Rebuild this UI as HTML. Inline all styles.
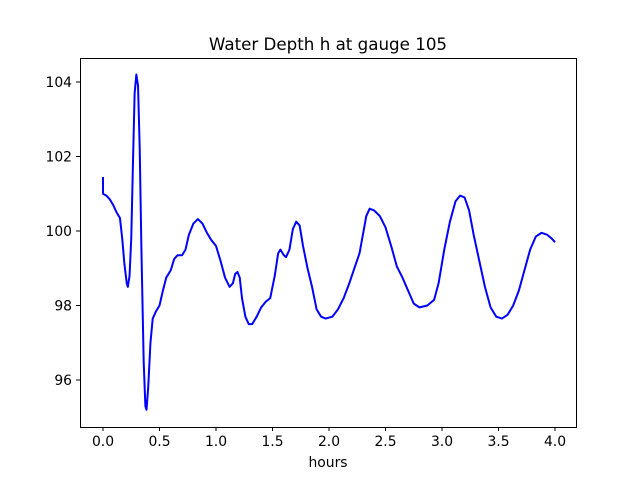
<!DOCTYPE html>
<html><head><meta charset="utf-8"><style>body{margin:0;background:#fff}svg{display:block}text{font-family:"DejaVu Sans","Liberation Sans",sans-serif;fill:#000}</style></head>
<body>
<svg width="640" height="480" viewBox="0 0 640 480" xmlns="http://www.w3.org/2000/svg">
<rect width="640" height="480" fill="#fff"/>
<text x="328" y="50" font-size="16.7" text-anchor="middle">Water Depth h at gauge 105</text>
<g transform="translate(103,231) scale(113,-37.25)">
<polyline fill="none" stroke="#0000ff" stroke-width="2" vector-effect="non-scaling-stroke" stroke-linejoin="round" points="0,1.45 0,1.0 0.03,0.95 0.06,0.85 0.09,0.7 0.12,0.5 0.15,0.35 0.17,-0.2 0.19,-0.9 0.21,-1.4 0.22,-1.5 0.235,-1.2 0.25,-0.2 0.265,1.8 0.28,3.7 0.295,4.2 0.31,3.9 0.325,2.2 0.34,-0.5 0.36,-3.5 0.375,-4.7 0.385,-4.8 0.4,-4.2 0.42,-3.0 0.44,-2.35 0.47,-2.15 0.5,-2.0 0.53,-1.6 0.56,-1.25 0.6,-1.05 0.63,-0.75 0.66,-0.65 0.7,-0.65 0.73,-0.5 0.76,-0.1 0.8,0.2 0.84,0.32 0.88,0.2 0.92,-0.05 0.96,-0.25 1.0,-0.4 1.04,-0.8 1.08,-1.25 1.12,-1.5 1.15,-1.4 1.17,-1.15 1.19,-1.1 1.21,-1.25 1.23,-1.8 1.26,-2.3 1.29,-2.5 1.32,-2.5 1.36,-2.3 1.4,-2.05 1.44,-1.9 1.48,-1.8 1.52,-1.2 1.55,-0.6 1.57,-0.5 1.6,-0.65 1.62,-0.7 1.65,-0.5 1.68,0.05 1.71,0.25 1.74,0.15 1.77,-0.4 1.81,-1.0 1.85,-1.5 1.89,-2.1 1.93,-2.3 1.97,-2.35 2.03,-2.3 2.08,-2.1 2.13,-1.8 2.18,-1.4 2.23,-0.95 2.27,-0.6 2.3,-0.1 2.33,0.4 2.36,0.6 2.4,0.55 2.45,0.4 2.5,0.1 2.55,-0.4 2.6,-0.95 2.65,-1.25 2.7,-1.6 2.75,-1.95 2.8,-2.05 2.87,-2.0 2.93,-1.85 2.97,-1.4 3.02,-0.5 3.07,0.25 3.12,0.8 3.16,0.95 3.2,0.9 3.24,0.55 3.28,-0.1 3.33,-0.8 3.38,-1.5 3.43,-2.05 3.48,-2.3 3.53,-2.35 3.58,-2.25 3.63,-2.0 3.68,-1.6 3.73,-1.05 3.78,-0.5 3.83,-0.15 3.88,-0.05 3.93,-0.1 3.97,-0.2 4.0,-0.3"/>
</g>
<rect x="80.5" y="58.5" width="496" height="369" fill="none" stroke="#000" stroke-width="1"/>
<g stroke="#000" stroke-width="1">
<line x1="103" y1="427" x2="103" y2="431"/><line x1="159.5" y1="427" x2="159.5" y2="431"/><line x1="216" y1="427" x2="216" y2="431"/><line x1="272.5" y1="427" x2="272.5" y2="431"/><line x1="329" y1="427" x2="329" y2="431"/><line x1="385.5" y1="427" x2="385.5" y2="431"/><line x1="442" y1="427" x2="442" y2="431"/><line x1="498.5" y1="427" x2="498.5" y2="431"/><line x1="555" y1="427" x2="555" y2="431"/>
<line x1="76" y1="82" x2="80" y2="82"/><line x1="76" y1="156.5" x2="80" y2="156.5"/><line x1="76" y1="231" x2="80" y2="231"/><line x1="76" y1="305.5" x2="80" y2="305.5"/><line x1="76" y1="380" x2="80" y2="380"/>
</g>
<g font-size="13.9" text-anchor="middle">
<text x="103" y="446">0.0</text><text x="159.5" y="446">0.5</text><text x="216" y="446">1.0</text><text x="272.5" y="446">1.5</text><text x="329" y="446">2.0</text><text x="385.5" y="446">2.5</text><text x="442" y="446">3.0</text><text x="498.5" y="446">3.5</text><text x="555" y="446">4.0</text>
<text x="328" y="467">hours</text>
</g>
<g font-size="13.9" text-anchor="end">
<text x="72" y="87">104</text><text x="72" y="161.5">102</text><text x="72" y="236">100</text><text x="72" y="310.5">98</text><text x="72" y="385">96</text>
</g>
</svg>
</body></html>
